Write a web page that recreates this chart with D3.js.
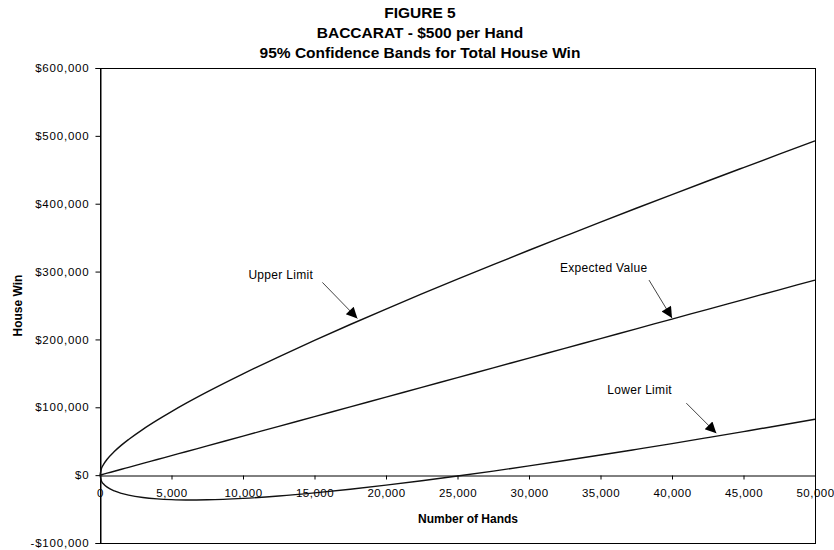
<!DOCTYPE html>
<html>
<head>
<meta charset="utf-8">
<script src="https://cdn.jsdelivr.net/npm/d3@7"></script>
<style>
  html, body { margin: 0; padding: 0; background: #fff; }
  svg { display: block; font-family: "Liberation Sans", Arial, sans-serif; }
</style>
</head>
<body>
<svg id="chart" width="834" height="550"></svg>
<script>
// Number of hands played
const hands = [0, 100, 250, 500, 1000, 1500, 2000, 3000, 4000, 5000, 6000, 7500,
  10000, 12500, 15000, 17500, 20000, 22500, 25000, 27500, 30000, 32500, 35000,
  37500, 40000, 42500, 45000, 47500, 50000];

// Expected total house win ($)
const expectedValue = [0, 575, 1438, 2875, 5750, 8625, 11500, 17250, 23000, 28750,
  34500, 43125, 57500, 71875, 86250, 100625, 115000, 129375, 143750, 158125,
  172500, 186875, 201250, 215625, 230000, 244375, 258750, 273125, 287500];

// Upper 95% confidence limit ($)
const upperLimit = [0, 9700, 15900, 23400, 34800, 44200, 52500, 67500, 81000, 93600,
  105600, 122600, 149200, 174400, 198600, 222000, 244700, 267000, 288800, 310200,
  331400, 352200, 372900, 393300, 413500, 433500, 453300, 473000, 492600];

// Lower 95% confidence limit ($)
const lowerLimit = [0, -8600, -13100, -17600, -23300, -26900, -29500, -33000, -35000,
  -36100, -36600, -36300, -34200, -30700, -26100, -20700, -14700, -8200, -1300,
  6000, 13600, 21500, 29600, 38000, 46500, 55300, 64200, 73200, 82400];

// Axis ticks
const xTicks = [0, 5000, 10000, 15000, 20000, 25000, 30000, 35000, 40000, 45000, 50000];
const yTicks = [-100000, 0, 100000, 200000, 300000, 400000, 500000, 600000];

const titleLines = ["FIGURE 5", "BACCARAT - $500 per Hand", "95% Confidence Bands for Total House Win"];

// Callouts: label, series, and the number of hands the arrow points at
const calloutLabels = ["Upper Limit", "Expected Value", "Lower Limit"];
const calloutSeries = [upperLimit, expectedValue, lowerLimit];
const calloutHands = [18000, 40000, 43100];

// ---- layout ----
const plot = { left: 100, right: 815, top: 68, bottom: 543 };
// offsets from arrow tip: [tailDx, tailDy, labelDx, labelDy, tipDy]
const calloutOffsets = [
  [-35, -36, -109, -39, -3],
  [-23, -38, -112, -46, -1],
  [-30, -30, -109, -39, -3]
];

const svg = d3.select("#chart");

const x = d3.scaleLinear().domain([0, 50000]).range([plot.left, plot.right]);
const y = d3.scaleLinear().domain([-100000, 600000]).range([plot.bottom, plot.top]);

// Title
svg.append("g").selectAll("text").data(titleLines).join("text")
  .attr("x", 420).attr("y", (d, i) => 18 + i * 20)
  .attr("text-anchor", "middle")
  .attr("font-size", 15.5).attr("font-weight", "bold")
  .attr("fill", "#000")
  .text(d => d);

// Plot frame
svg.append("rect")
  .attr("x", plot.left + 0.5).attr("y", plot.top + 0.5)
  .attr("width", plot.right - plot.left).attr("height", plot.bottom - plot.top)
  .attr("fill", "none").attr("stroke", "#000").attr("stroke-width", 1);

const fmt = d3.format(",");
const money = d => d < 0 ? "-$" + fmt(-d) : "$" + fmt(d);

// Y axis
const yAxis = svg.append("g")
  .attr("transform", `translate(${plot.left + 0.5},0)`)
  .call(d3.axisLeft(y).tickValues(yTicks).tickSize(5).tickPadding(6).tickFormat(money));
yAxis.select(".domain").attr("stroke", "#000");
yAxis.selectAll(".tick line").attr("stroke", "#000");
yAxis.selectAll(".tick text")
  .attr("font-size", 11.5).attr("letter-spacing", 0.8)
  .attr("font-family", "'Liberation Sans', Arial, sans-serif").attr("fill", "#000");

// X axis along the zero line
const xAxis = svg.append("g")
  .attr("transform", `translate(0,${Math.round(y(0)) + 0.5})`)
  .call(d3.axisBottom(x).tickValues(xTicks).tickSize(4).tickPadding(9).tickFormat(fmt));
xAxis.select(".domain").attr("stroke", "#000");
xAxis.selectAll(".tick line").attr("stroke", "#000");
xAxis.selectAll(".tick text")
  .attr("font-size", 11.5).attr("letter-spacing", 0.5)
  .attr("font-family", "'Liberation Sans', Arial, sans-serif").attr("fill", "#000");

// Axis titles
svg.append("text")
  .attr("x", 468).attr("y", 523)
  .attr("text-anchor", "middle")
  .attr("font-size", 12).attr("font-weight", "bold")
  .text("Number of Hands");

svg.append("text")
  .attr("transform", `translate(22,${(plot.top + plot.bottom) / 2}) rotate(-90)`)
  .attr("text-anchor", "middle")
  .attr("font-size", 12).attr("font-weight", "bold")
  .text("House Win");

// Series lines
const line = d3.line()
  .x((d, i) => x(hands[i]))
  .y(d => y(d))
  .curve(d3.curveMonotoneX);

svg.append("g").selectAll("path").data([upperLimit, expectedValue, lowerLimit]).join("path")
  .attr("d", d => line(d))
  .attr("fill", "none")
  .attr("stroke", "#111")
  .attr("stroke-width", 1.4);

// Linear read of a series at a given number of hands
function valueAt(series, n) {
  const i = Math.max(1, Math.min(hands.length - 1, d3.bisectLeft(hands, n)));
  const t = (n - hands[i - 1]) / (hands[i] - hands[i - 1]);
  return series[i - 1] + t * (series[i] - series[i - 1]);
}

// Callout arrows and labels
const defs = svg.append("defs");
defs.append("marker")
  .attr("id", "head")
  .attr("viewBox", "0 0 10 10")
  .attr("refX", 10).attr("refY", 5)
  .attr("markerWidth", 13).attr("markerHeight", 11)
  .attr("markerUnits", "userSpaceOnUse")
  .attr("orient", "auto")
  .append("path").attr("d", "M0,0 L10,5 L0,10 Z").attr("fill", "#000");

const callouts = svg.append("g");
calloutLabels.forEach((label, k) => {
  const n = calloutHands[k];
  const off = calloutOffsets[k];
  const tx = x(n);
  const ty = y(valueAt(calloutSeries[k], n)) + off[4];
  callouts.append("line")
    .attr("x1", tx + off[0]).attr("y1", ty + off[1])
    .attr("x2", tx).attr("y2", ty)
    .attr("stroke", "#444").attr("stroke-width", 1)
    .attr("marker-end", "url(#head)");
  callouts.append("text")
    .attr("x", tx + off[2]).attr("y", ty + off[3])
    .attr("font-size", 12).attr("letter-spacing", 0.3).attr("fill", "#000")
    .text(label);
});
</script>
</body>
</html>
